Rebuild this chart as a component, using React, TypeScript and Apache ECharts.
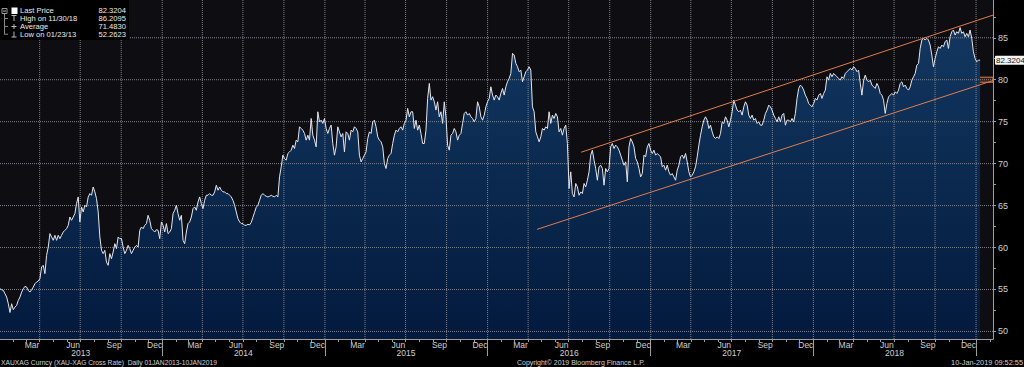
import React, { useEffect, useRef } from 'react';
import * as echarts from 'echarts';

const FONT = '"Liberation Sans Narrow", "Arial Narrow", "Liberation Sans", Arial, sans-serif';

// sampling window of the series (Daily 01JAN2013-10JAN2019 at regular steps)
const SERIES_START = Date.UTC(2013, 0, 2);
const SERIES_END = Date.UTC(2019, 0, 10);
const AXIS_MIN = Date.UTC(2013, 0, 2);
const AXIS_MAX = Date.UTC(2019, 1, 8);
const Y_MIN = 49.1;
const Y_MAX = 89.5;

const px2013 = [
  55.09, 54.97, 54.89, 54.5, 54.1, 53.3, 52.26, 53.3, 52.6, 52.9,
  53.1, 53.7, 54.1, 54.69, 55.09, 55.37, 55.29, 54.89, 54.69, 54.97,
  55.29, 55.69, 55.89, 56.01, 56.29, 57.68, 57.88, 56.88, 59.07, 60.06,
  61.66, 61.26, 60.86, 61.46, 60.86, 61.46, 61.06, 61.46, 61.85, 62.05,
  62.25, 62.65, 63.64, 63.25, 63.64, 64.04, 65.24, 66.03, 63.05, 64.84,
  64.24, 65.04, 64.84, 66.03, 66.43, 66.23, 67.22, 66.63, 65.83, 64.24,
  61.26, 59.67, 59.27, 59.67, 58.27, 57.88, 59.27, 58.67, 59.47, 60.46,
  59.87, 61.26, 61.06, 61.06, 60.06, 59.27, 59.67, 60.26, 59.87, 59.27,
  59.67, 60.06, 60.26, 60.06, 62.05, 62.45, 62.25, 62.65, 62.85, 63.84,
  63.25, 62.25, 62.05, 61.85, 62.13, 62.05, 61.06, 63.05, 62.65, 61.85,
  62.85, 61.66, 61.85, 62.25, 64.04, 64.44, 65.04, 64.04, 63.25, 63.84,
  60.86, 60.46, 61.85, 62.85, 63.05, 63.64, 64.64, 64.84, 64.44, 65.43,
  66.03, 65.24, 64.64, 65.63, 66.23, 66.23, 66.43, 66.23, 66.23, 66.63,
  67.42, 66.83, 67.22, 66.83, 66.63, 66.63, 66.43, 66.43, 66.23, 66.03,
  65.63, 65.04, 64.24, 63.45, 63.05, 62.85, 62.85, 62.65, 62.65, 62.77,
];
const px2014 = [
  62.7, 63.0, 63.6, 64.2, 64.8, 65.04, 65.64, 66.23, 66.43, 66.23,
  66.11, 66.03, 66.11, 66.23, 66.11, 66.03, 66.23, 66.03, 68.42, 69.62,
  71.01, 70.61, 70.41, 71.21, 71.4, 71.6, 72.2, 71.8, 72.8, 72.6,
  74.39, 74.19, 73.99, 73.59, 72.8, 73.39, 72.8, 75.38, 73.39, 72.8,
  72.0, 76.18, 74.98, 75.18, 74.79, 75.38, 74.19, 73.59, 74.19, 74.59,
  72.4, 71.01, 72.0, 74.39, 73.79, 73.19, 73.59, 71.4, 73.79, 73.59,
  72.8, 73.99, 73.79, 74.39, 74.19, 73.79, 71.01, 70.21, 70.61, 71.01,
  71.4, 72.99, 73.79, 73.59, 74.98, 75.18, 74.39, 73.19, 72.8, 72.6,
  72.0, 70.01, 69.42, 70.61, 71.01, 71.21, 72.4, 73.39, 73.99, 73.79,
  74.19, 74.39, 73.99, 74.79, 75.18, 76.58, 75.58, 76.18, 76.18, 74.19,
  75.18, 73.99, 74.59, 73.59, 72.4, 72.4, 73.99, 77.77, 79.56, 77.57,
  77.97, 77.37, 76.38, 77.37, 75.58, 76.18, 74.79, 77.37, 75.58, 72.2,
  71.6, 73.39, 73.59, 74.19, 73.79, 72.8, 73.39, 73.59, 74.79, 75.98,
  76.18, 75.78, 75.98, 75.58, 75.38, 74.98, 75.38, 77.37, 76.77, 75.58,
  75.18, 75.78, 76.77, 77.37, 77.77, 79.16, 78.17,
];
const px2016 = [
  77.57, 78.17, 77.97, 77.57, 78.37, 78.96, 78.17, 79.16, 79.76, 80.16,
  80.75, 83.14, 82.94, 81.95, 81.55, 80.95, 81.15, 79.76, 80.35, 80.95,
  81.15, 81.55, 81.15, 76.77, 76.18, 73.79, 73.19, 72.6, 73.19, 74.19,
  73.99, 74.39, 74.19, 76.18, 74.79, 75.78, 75.38, 75.98, 75.58, 73.79,
  74.19, 73.39, 74.19, 74.59, 72.4, 67.03, 69.02, 66.43, 66.03, 67.63,
  67.23, 66.23, 66.63, 66.43, 67.63, 67.23, 68.02, 69.02, 71.01, 71.6,
  70.41, 69.42, 68.02, 69.62, 69.81, 69.42, 67.43, 69.42, 69.02, 69.42,
  72.0, 72.4, 71.8, 72.2, 72.0, 71.6, 71.01, 70.41, 69.81, 70.21,
  67.83, 72.0, 72.99, 72.6, 72.0, 70.61, 70.21, 69.42, 68.42, 68.82,
  71.01, 70.81, 72.0, 72.4, 71.6, 71.21, 71.6, 71.01, 71.21, 71.01,
  70.81, 69.62, 69.81, 69.22, 69.81, 69.02, 68.62, 68.82, 68.42, 68.02,
  69.22, 69.81, 70.81, 71.01, 70.61, 71.21, 70.21, 69.02, 68.42, 68.62,
  69.02, 69.62, 70.81, 72.2, 73.39, 74.39, 75.18, 75.58, 75.18, 74.19,
  74.59, 73.79, 73.19, 72.99, 73.19, 72.99, 73.59, 74.98, 74.79, 75.58,
  75.18, 74.39, 75.18, 76.18, 77.57, 76.97, 76.38,
];
const px2017 = [
  76.17, 76.37, 75.78, 76.77, 77.37, 76.97, 75.78, 75.38, 75.78, 75.18,
  75.38, 74.78, 74.98, 74.58, 74.58, 75.18, 75.98, 76.37, 76.97, 76.77,
  76.37, 75.78, 75.38, 74.98, 75.58, 74.98, 75.78, 75.98, 74.58, 75.18,
  75.18, 74.98, 75.38, 74.98, 75.98, 77.77, 78.96, 79.36, 79.16, 78.76,
  78.16, 77.77, 77.17, 76.97, 76.77, 77.17, 77.77, 77.57, 78.16, 78.36,
  77.77, 78.36, 78.76, 80.35, 79.95, 80.75, 80.35, 80.75, 80.55, 80.35,
  80.15, 79.95, 80.35, 80.15, 80.75, 80.95, 81.15, 81.35, 81.15, 81.54,
  81.35, 80.95, 81.15, 79.56, 78.16, 79.95, 80.55, 79.95, 79.75, 79.95,
  79.36, 79.16, 78.96, 79.56, 79.16, 78.36, 78.16, 77.57, 75.98, 77.17,
  77.96, 78.16, 78.36, 78.16, 78.56, 78.36, 78.76, 79.56, 79.75, 79.16,
  79.36, 78.96, 78.76, 79.16, 79.95, 80.35, 80.75, 81.74, 81.94, 83.73,
  84.73, 84.93, 84.73, 84.93, 84.73, 84.13, 82.94, 81.54, 82.54, 83.33,
  83.93, 83.73, 84.13, 83.93, 84.53, 84.73, 83.73, 85.12, 85.72, 85.92,
  85.32, 85.72, 85.52, 86.21, 85.52, 85.72, 85.12, 85.52, 85.12, 85.92,
  84.93, 83.33, 82.54, 82.14, 82.34, 82.32,
];

const legendLabels = ['Last Price', 'High on 11/30/18', 'Average', 'Low on 01/23/13'];
const legendValues = ['82.3204', '86.2095', '71.4830', '52.2623'];
const lastPrice = 82.3204;

// channel lines [date, value]
const channelUpper: [string, number][] = [['2016-07-29', 71.36], ['2019-02-08', 87.7]];
const channelLower: [string, number][] = [['2016-04-21', 62.17], ['2019-02-08', 79.9]];
const channelBox = { from: '2018-12-29', to: '2019-02-08', low: 79.7, high: 80.3 };

const years = [2013, 2014, 2015, 2016, 2017, 2018];
const monthLabels = ['Mar', 'Jun', 'Sep', 'Dec'];
const monthLabelIdx = [2, 5, 8, 11];
const yLabels = [50, 55, 60, 65, 70, 75, 80, 85];
const yTicks = [50, 52.5, 55, 57.5, 60, 62.5, 65, 67.5, 70, 72.5, 75, 77.5, 80, 82.5, 85, 87.5];

const footerLeft = 'XAUXAG Curncy (XAU-XAG Cross Rate)  Daily 01JAN2013-10JAN2019';
const footerMid = 'Copyright\u00a9 2019 Bloomberg Finance L.P.';
const footerRight = '10-Jan-2019 09:52:55';

const ORANGE = '#e27c4c';
const GRID_COLOR = '#80808a';
const AXIS_COLOR = '#9c9c9c';
const LABEL_COLOR = '#d0d0d0';

const toTs = (s: string) => {
  const [y, m, d] = s.split('-').map(Number);
  return Date.UTC(y, m - 1, d);
};

export default function App() {
  const ref = useRef<HTMLDivElement>(null);
  useEffect(() => {
    const values = [...px2013, ...px2014, ...px2016, ...px2017];
    const step = (SERIES_END - SERIES_START) / (values.length - 1);
    const data = values.map((v, i) => [SERIES_START + i * step, v]);

    const monthStarts: number[] = [];
    for (let y = 2013; y <= 2019; y++) {
      for (let m = 0; m < 12; m++) {
        const t = Date.UTC(y, m, 1);
        if (t > AXIS_MIN && t <= AXIS_MAX) monthStarts.push(t);
      }
    }
    const labelMap: Record<number, string> = {};
    const monthMids: number[] = [];
    years.forEach((y) => {
      monthLabelIdx.forEach((m, i) => {
        const t = Date.UTC(y, m, 15);
        monthMids.push(t);
        labelMap[t] = monthLabels[i];
      });
    });
    const yearStarts = years.map((y) => Date.UTC(y + 1, 0, 1));
    const yearMids = years.map((y) => Date.UTC(y, 6, 2));
    const quarterLines: number[] = [];
    years.forEach((y) => {
      [Date.UTC(y, 3, 1), Date.UTC(y, 6, 1), Date.UTC(y, 9, 1), Date.UTC(y + 1, 0, 1)].forEach((t) =>
        quarterLines.push(t)
      );
    });

    const chart = echarts.init(ref.current!, null, { renderer: 'svg' });
    const txt = (text: string, x: number, y: number, align = 'left', size = 8, fill = LABEL_COLOR, sx = 1) => ({
      type: 'text',
      x,
      y,
      scaleX: sx,
      z: 110,
      style: { text, fill, fontSize: size, fontFamily: FONT, align, verticalAlign: 'middle' },
    });
    const rowsY = [10.7, 18.5, 26.4, 34.2];
    const legendGraphics: any[] = [
      { type: 'rect', z: 100, shape: { x: 0, y: 0, width: 129, height: 40 }, style: { fill: '#000' } },
      { type: 'line', z: 105, shape: { x1: 4.5, y1: 13, x2: 4.5, y2: 34.5 }, style: { stroke: '#8a8a8a', lineWidth: 1 } },
      { type: 'rect', z: 106, shape: { x: 2, y: 8.5, width: 5, height: 5 }, style: { fill: '#000', stroke: '#9a9a9a', lineWidth: 1 } },
      { type: 'line', z: 107, shape: { x1: 3, y1: 11, x2: 6, y2: 11 }, style: { stroke: '#bbb', lineWidth: 1 } },
      { type: 'rect', z: 106, shape: { x: 11.5, y: 7.5, width: 6, height: 6.5 }, style: { fill: '#fff' } },
    ];
    [1, 2, 3].forEach((r) => {
      legendGraphics.push({
        type: 'line', z: 105,
        shape: { x1: 4.5, y1: rowsY[r], x2: 8, y2: rowsY[r] },
        style: { stroke: '#8a8a8a', lineWidth: 1 },
      });
    });
    legendGraphics.push(
      { type: 'line', z: 106, shape: { x1: 11.5, y1: 15.5, x2: 16.5, y2: 15.5 }, style: { stroke: '#bbb', lineWidth: 1 } },
      { type: 'line', z: 106, shape: { x1: 14, y1: 15.5, x2: 14, y2: 21 }, style: { stroke: '#bbb', lineWidth: 1 } },
      { type: 'line', z: 106, shape: { x1: 11.5, y1: 26.5, x2: 16.5, y2: 26.5 }, style: { stroke: '#bbb', lineWidth: 1 } },
      { type: 'line', z: 106, shape: { x1: 14, y1: 24, x2: 14, y2: 29 }, style: { stroke: '#bbb', lineWidth: 1 } },
      { type: 'line', z: 106, shape: { x1: 11.5, y1: 37, x2: 16.5, y2: 37 }, style: { stroke: '#bbb', lineWidth: 1 } },
      { type: 'line', z: 106, shape: { x1: 14, y1: 31.5, x2: 14, y2: 37 }, style: { stroke: '#bbb', lineWidth: 1 } }
    );
    legendLabels.forEach((l, i) => {
      legendGraphics.push(txt(l, 20, rowsY[i], 'left', 8, '#ececec', 0.95));
      legendGraphics.push(txt(legendValues[i], 126, rowsY[i], 'right', 8, '#ececec', 0.95));
    });

    const gridLineStyle = { color: GRID_COLOR, width: 1, type: 'dotted', opacity: 1 };
    const vGridSeries = quarterLines.map((t) => ({
      type: 'line', xAxisIndex: 0, yAxisIndex: 0, z: 2, silent: true,
      symbol: 'none', showSymbol: false, clip: false,
      data: [[t, Y_MIN], [t, Y_MAX]],
      lineStyle: gridLineStyle,
    }));
    const hGridSeries = yLabels.map((v) => ({
      type: 'line', xAxisIndex: 0, yAxisIndex: 0, z: 2, silent: true,
      symbol: 'none', showSymbol: false, clip: false,
      data: [[AXIS_MIN, v], [AXIS_MAX, v]],
      lineStyle: gridLineStyle,
    }));

    chart.setOption({
      animation: false,
      backgroundColor: '#000',
      textStyle: { fontFamily: FONT },
      grid: {
        left: 0, right: 31, top: 0, bottom: 28,
        show: true, backgroundColor: '#0e0e12', borderWidth: 0,
        containLabel: false, outerBoundsMode: 'none',
      },
      xAxis: [
        {
          type: 'value', min: AXIS_MIN, max: AXIS_MAX, position: 'bottom',
          axisLine: { show: true, lineStyle: { color: AXIS_COLOR, width: 1 } },
          axisTick: { show: true, customValues: monthStarts, length: 3, lineStyle: { color: AXIS_COLOR } },
          axisLabel: {
            show: true, customValues: monthMids, formatter: (v: number) => labelMap[v] ?? '',
            color: LABEL_COLOR, fontSize: 8.5, fontFamily: FONT, margin: 1,
          },
          splitLine: { show: false },
        },
        {
          type: 'value', min: AXIS_MIN, max: AXIS_MAX, position: 'bottom',
          axisLine: { show: false },
          axisTick: { show: true, customValues: yearStarts, length: 17, lineStyle: { color: AXIS_COLOR } },
          axisLabel: {
            show: true, customValues: yearMids,
            formatter: (v: number) => String(new Date(v).getUTCFullYear()),
            color: LABEL_COLOR, fontSize: 8.5, fontFamily: FONT, margin: 9,
          },
          splitLine: { show: false },
        },
      ],
      yAxis: [
        {
          type: 'value', min: Y_MIN, max: Y_MAX, position: 'right',
          axisLine: { show: true, lineStyle: { color: AXIS_COLOR, width: 1 } },
          axisTick: { show: true, customValues: yTicks, length: 3, lineStyle: { color: AXIS_COLOR } },
          axisLabel: { show: true, customValues: yLabels, color: LABEL_COLOR, fontSize: 9, fontFamily: FONT, margin: 5 },
          splitLine: { show: false },
        },
        {
          type: 'value', min: Y_MIN, max: Y_MAX, position: 'right',
          axisLine: { show: false }, axisTick: { show: false }, splitLine: { show: false },
          axisLabel: {
            show: true, customValues: [lastPrice], formatter: () => lastPrice.toFixed(4),
            color: '#111', backgroundColor: '#f4f4f4', padding: [1, 1, 0, 1], borderRadius: 1,
            fontSize: 8, fontFamily: FONT, margin: 2,
          },
        },
      ],
      series: [
        {
          type: 'line', name: 'fill', data, xAxisIndex: 0, yAxisIndex: 0,
          symbol: 'none', showSymbol: false, z: 1, silent: true,
          lineStyle: { width: 0, opacity: 0 },
          areaStyle: {
            origin: 'start',
            opacity: 1,
            color: new echarts.graphic.LinearGradient(0, 0, 0, 1, [
              { offset: 0, color: '#123760' },
              { offset: 1, color: '#031a3d' },
            ]),
          },
        },
        ...vGridSeries,
        ...hGridSeries,
        {
          type: 'line', name: 'XAUXAG', data, xAxisIndex: 0, yAxisIndex: 0,
          symbol: 'none', showSymbol: false, z: 3,
          lineStyle: { color: '#e6e6ec', width: 1 },
        },
        {
          type: 'line', name: 'upper', xAxisIndex: 0, yAxisIndex: 0, z: 4,
          data: channelUpper.map(([d, v]) => [toTs(d), v]),
          symbol: 'none', showSymbol: false, lineStyle: { color: ORANGE, width: 1 },
        },
        {
          type: 'line', name: 'lower', xAxisIndex: 0, yAxisIndex: 0, z: 4,
          data: channelLower.map(([d, v]) => [toTs(d), v]),
          symbol: 'none', showSymbol: false, lineStyle: { color: ORANGE, width: 1 },
          markArea: {
            silent: true,
            itemStyle: { color: 'rgba(226,124,76,0.18)', borderColor: ORANGE, borderWidth: 1 },
            data: [[
              { xAxis: toTs(channelBox.from), yAxis: channelBox.high },
              { xAxis: toTs(channelBox.to), yAxis: channelBox.low },
            ]],
          },
        },
      ],
      graphic: [
        ...legendGraphics,
        txt(footerLeft, 1, 362, 'left', 8, LABEL_COLOR, 0.84),
        txt(footerMid, 517, 362, 'left', 8, LABEL_COLOR, 0.87),
        txt(footerRight, 1023, 362, 'right', 8, LABEL_COLOR, 0.92),
      ],
    });
    return () => chart.dispose();
  }, []);
  return (
    <div
      ref={ref}
      style={{ position: 'fixed', left: 0, top: 0, width: 1024, height: 367, background: '#000' }}
    />
  );
}
